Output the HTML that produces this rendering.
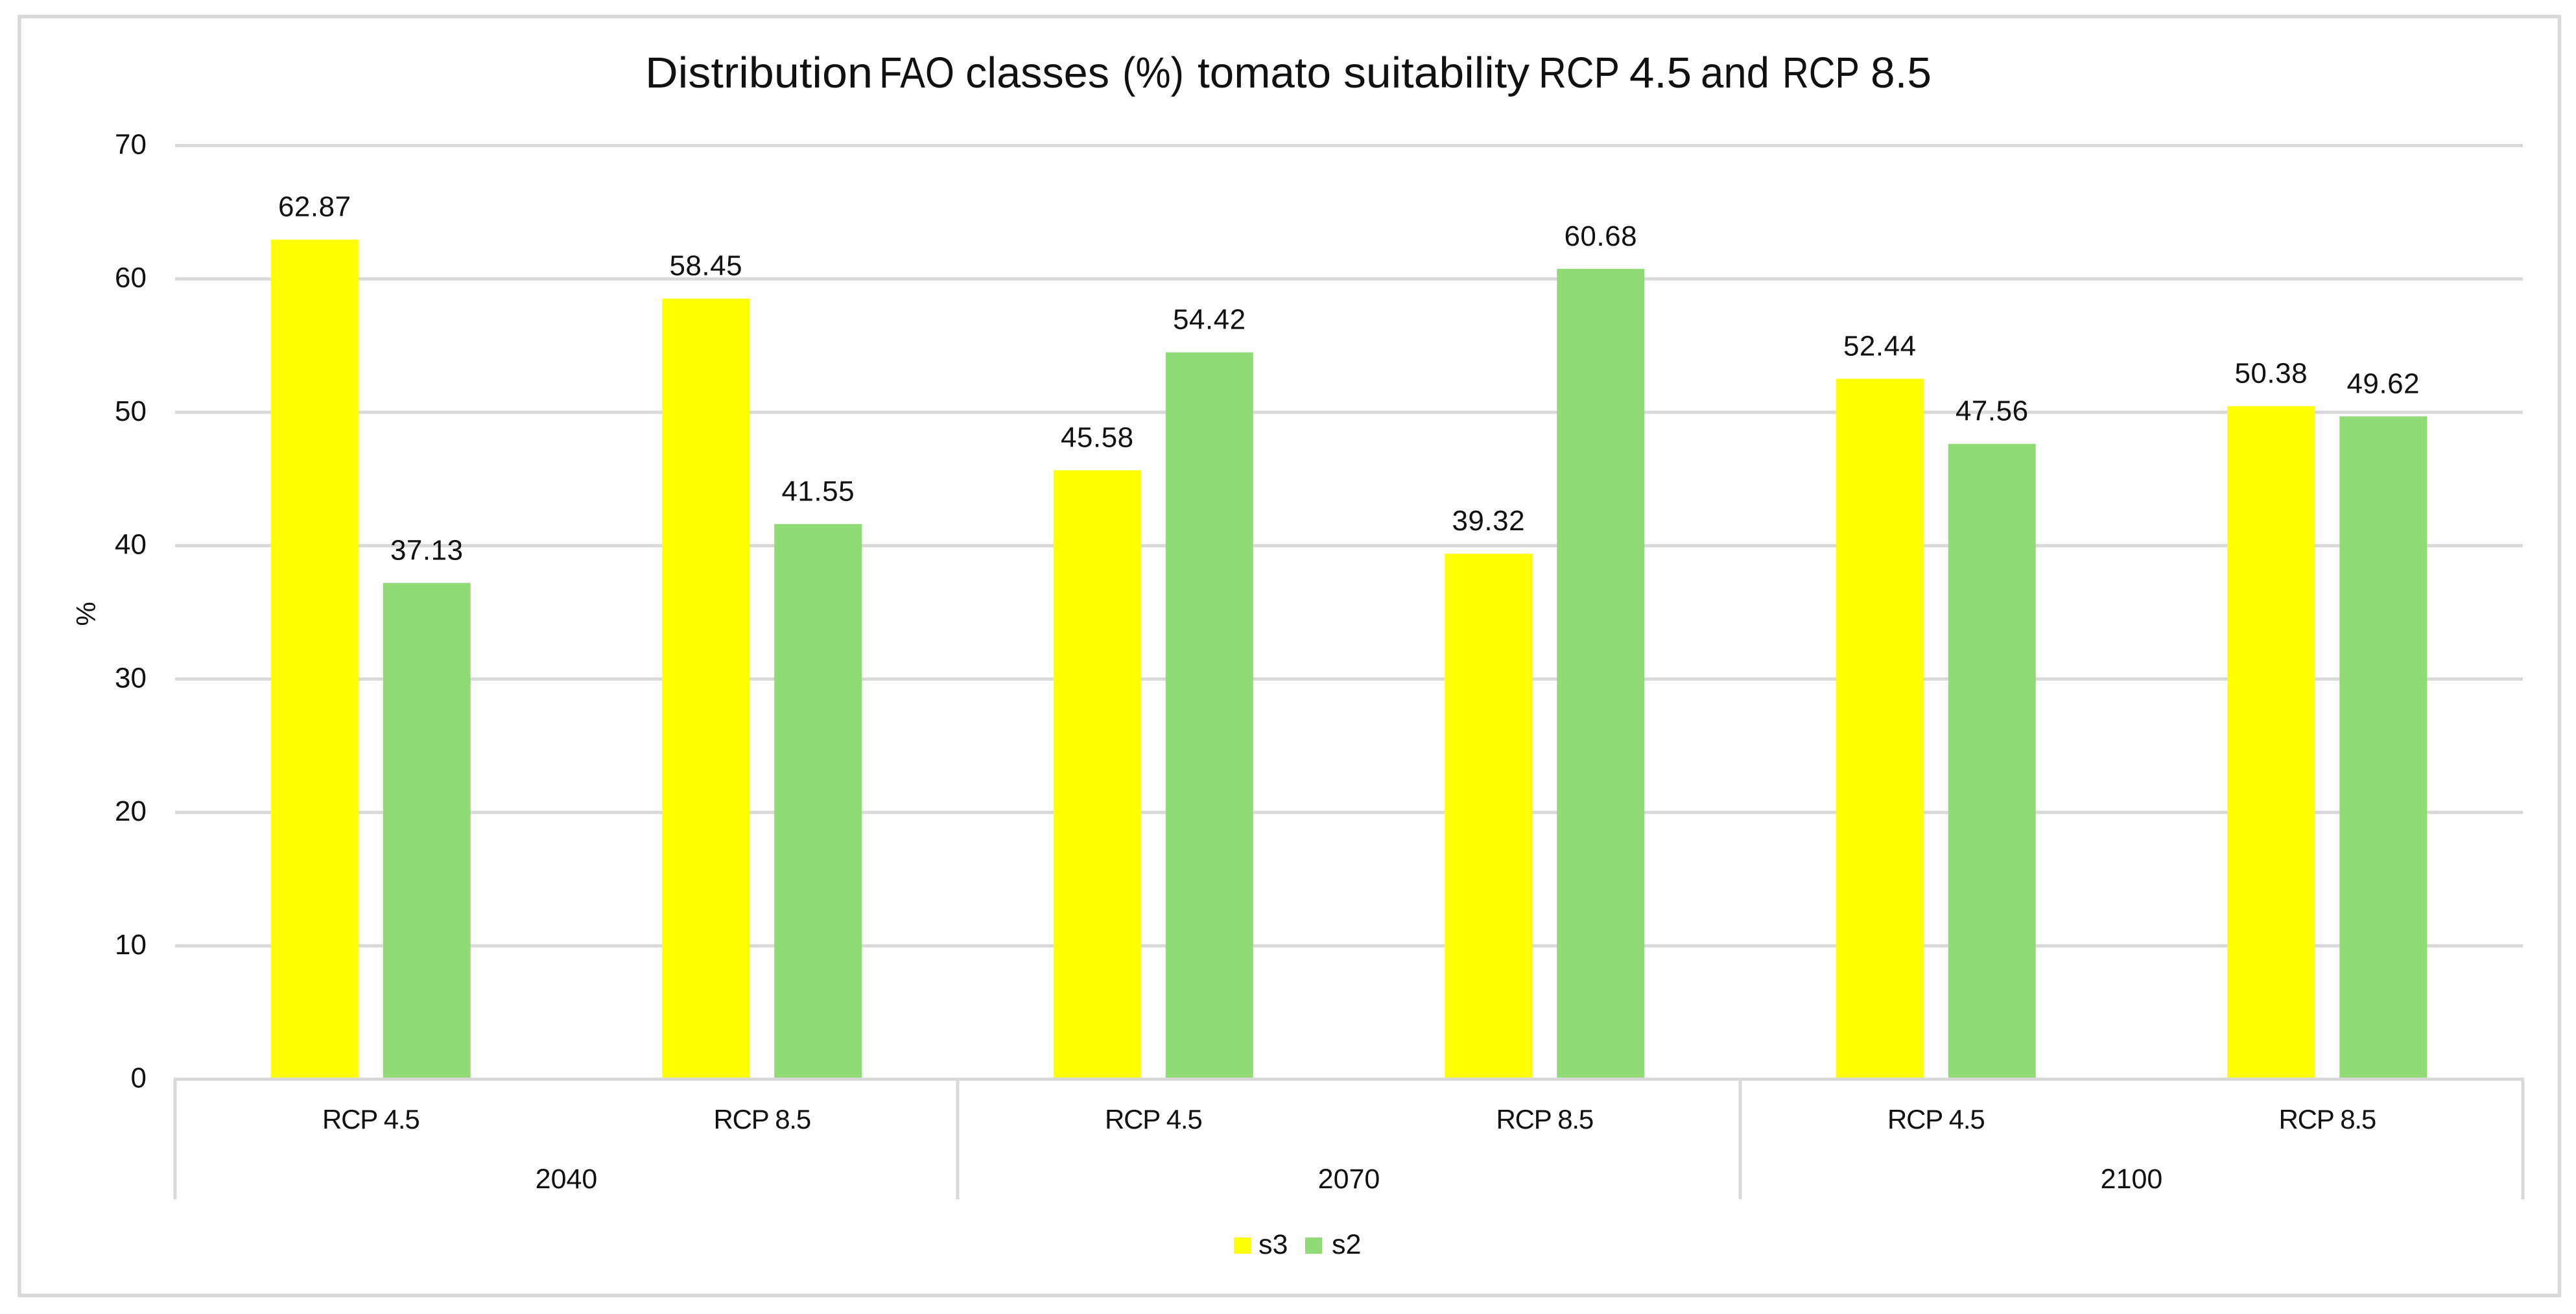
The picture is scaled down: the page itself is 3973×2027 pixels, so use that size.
<!DOCTYPE html>
<html lang="en">
<head>
<meta charset="utf-8">
<title>Distribution FAO classes (%) tomato suitability RCP 4.5 and RCP 8.5</title>
<style>
html,body{margin:0;padding:0;background:#fff;width:3973px;height:2027px;overflow:hidden}
svg{display:block}
text{font-family:"Liberation Sans",sans-serif;fill:#111}
</style>
</head>
<body>
<svg id="chart" xmlns="http://www.w3.org/2000/svg" width="3973" height="2027" viewBox="0 0 3973 2027">
  <rect x="0" y="0" width="3973" height="2027" fill="#ffffff"/>
  <rect x="30" y="25.5" width="3917.5" height="1973" fill="#fefefe" stroke="#d9d9d9" stroke-width="5.5"/>
  <text y="135" font-size="67"><tspan x="995" textLength="351" lengthAdjust="spacingAndGlyphs">Distribution</tspan> <tspan x="1356" textLength="116" lengthAdjust="spacingAndGlyphs">FAO</tspan> <tspan x="1489" textLength="222" lengthAdjust="spacingAndGlyphs">classes</tspan> <tspan x="1731" textLength="95" lengthAdjust="spacingAndGlyphs">(%)</tspan> <tspan x="1847" textLength="206" lengthAdjust="spacingAndGlyphs">tomato</tspan> <tspan x="2072" textLength="287" lengthAdjust="spacingAndGlyphs">suitability</tspan> <tspan x="2373" textLength="124" lengthAdjust="spacingAndGlyphs">RCP</tspan> <tspan x="2513" textLength="96" lengthAdjust="spacingAndGlyphs">4.5</tspan> <tspan x="2623" textLength="106" lengthAdjust="spacingAndGlyphs">and</tspan> <tspan x="2749" textLength="118" lengthAdjust="spacingAndGlyphs">RCP</tspan> <tspan x="2885" textLength="94" lengthAdjust="spacingAndGlyphs">8.5</tspan></text>
  <text transform="translate(147 947) rotate(-90)" text-anchor="middle" font-size="42">%</text>
  <g id="grid"></g>
  <g id="yticks"></g>
  <g id="bars"></g>
  <g id="labels"></g>
  <g id="xaxis"></g>
  <g>
    <g>
      <rect x="1903" y="1909" width="26" height="25" fill="#ffff00"/>
      <text x="1941" y="1934" font-size="43">s3</text>
    </g>
    <g>
      <rect x="2013" y="1909" width="26" height="25" fill="#91db77"/>
      <text x="2054" y="1934" font-size="43">s2</text>
    </g>
  </g>
</svg>
<script>
const groups = ["2040", "2070", "2100"];
const scenarios = ["RCP 4.5", "RCP 8.5", "RCP 4.5", "RCP 8.5", "RCP 4.5", "RCP 8.5"];
const s3Values = [62.87, 58.45, 45.58, 39.32, 52.44, 50.38];
const s2Values = [37.13, 41.55, 54.42, 60.68, 47.56, 49.62];
const yTicks = [0, 10, 20, 30, 40, 50, 60, 70];

const NS = "http://www.w3.org/2000/svg";
const plotLeft = 270, plotRight = 3891, y0 = 1664.7, y70 = 224.5, yMax = 70;
const GRID = "#d9d9d9", YELLOW = "#ffff00", GREEN = "#91db77";
const barW = 135, barGap = 38;
const catW = (plotRight - plotLeft) / scenarios.length;
const yScale = v => y0 - (y0 - y70) * v / yMax;
const catCenter = i => plotLeft + catW * (i + 0.5);

function mk(tag, attrs, parent, txt) {
  const el = document.createElementNS(NS, tag);
  for (const k in attrs) el.setAttribute(k, attrs[k]);
  if (txt !== undefined) el.textContent = txt;
  parent.appendChild(el);
  return el;
}
const gGrid = document.getElementById("grid");
const gY = document.getElementById("yticks");
const gBars = document.getElementById("bars");
const gLabels = document.getElementById("labels");
const gX = document.getElementById("xaxis");

yTicks.forEach(t => {
  if (t !== 0) {
    const line = mk("line", {x1: plotLeft, x2: plotRight, y1: yScale(t), y2: yScale(t), stroke: GRID, "stroke-width": 5}, gGrid);
    
    
  }
  const lab = mk("text", {x: 226, y: yScale(t) + 13, "text-anchor": "end", "font-size": 44}, gY, String(t));
  
  
});

function drawSeries(values, color, dir, name) {
  values.forEach((v, i) => {
    const cx = catCenter(i) + dir * (barW + barGap) / 2;
    const top = yScale(v) - 1.5;
    const bar = mk("rect", {x: cx - barW / 2, y: top, width: barW, height: y0 - top, fill: color}, gBars);
    
    
    const lab = mk("text", {x: cx, y: top - 36, "text-anchor": "middle", "font-size": 44, "letter-spacing": 0.5}, gLabels, v.toFixed(2));
    
    
  });
}
drawSeries(s3Values, YELLOW, -1, "s3");
drawSeries(s2Values, GREEN, 1, "s2");

const axisLine = mk("line", {x1: plotLeft - 2, x2: plotRight + 2, y1: y0, y2: y0, stroke: GRID, "stroke-width": 5}, gX);



scenarios.forEach((s, i) => {
  const lab = mk("text", {x: catCenter(i), y: 1741, "text-anchor": "middle", "font-size": 42, "letter-spacing": -1.2}, gX, s);
  
  
});
const perGroup = scenarios.length / groups.length;
groups.forEach((g, i) => {
  const cx = plotLeft + catW * perGroup * (i + 0.5);
  const lab = mk("text", {x: cx, y: 1833, "text-anchor": "middle", "font-size": 43}, gX, g);
  
  
});
for (let i = 0; i <= groups.length; i++) {
  const x = plotLeft + catW * perGroup * i;
  const sep = mk("line", {x1: x, x2: x, y1: y0, y2: 1850, stroke: GRID, "stroke-width": 5}, gX);
  
  
}
</script>
</body>
</html>
